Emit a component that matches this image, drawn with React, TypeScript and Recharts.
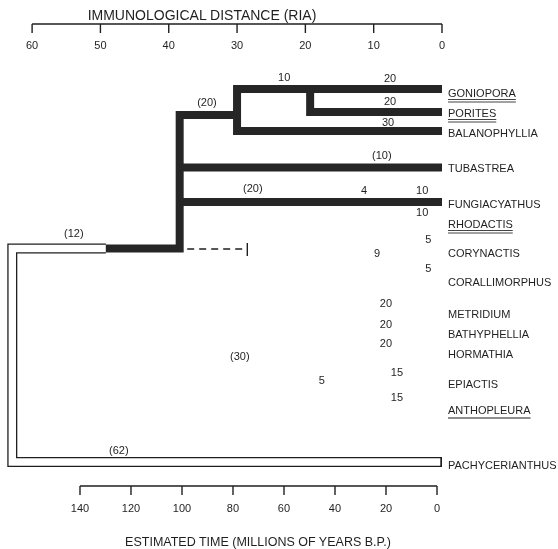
import { ComposedChart, Line, XAxis, YAxis, ReferenceLine } from 'recharts'

// taxa on the right-hand side and their row position (top = 0)
const TAXA = [
  'GONIOPORA', 'PORITES', 'BALANOPHYLLIA', 'TUBASTREA', 'FUNGIACYATHUS', 'RHODACTIS', 'CORYNACTIS',
  'CORALLIMORPHUS', 'METRIDIUM', 'BATHYPHELLIA', 'HORMATHIA', 'EPIACTIS', 'ANTHOPLEURA', 'PACHYCERIANTHUS',
]
const TAXON_ROWS = [93, 113, 133, 168, 204, 224, 253, 282, 314, 334, 354, 384, 410, 465]
const DOUBLE_UNDERLINE = ['GONIOPORA', 'PORITES', 'RHODACTIS']
const SINGLE_UNDERLINE = ['ANTHOPLEURA']

const DIST_TICKS = [60, 50, 40, 30, 20, 10, 0]
const TIME_TICKS = [140, 120, 100, 80, 60, 40, 20, 0]

// branches as [immunological distance, row] vertices
const CORAL_BRANCHES: [number, number][][] = [
  [[0, 89], [30, 89], [30, 131], [0, 131]], // goniopora + balanophyllia
  [[19.3, 89], [19.3, 112], [0, 112]], // porites
  [[30, 115], [38.4, 115], [38.4, 248.5], [49.2, 248.5]], // scleractinian stem
  [[38.4, 167.5], [0, 167.5]], // tubastrea
  [[38.4, 202], [0, 202]], // fungiacyathus
]
const OUTGROUP_BRANCH: [number, number][] = [[49.2, 248.5], [62.9, 248.5], [62.9, 462], [0, 462]]
const DASHED_BRANCH: [number, number][] = [[37.3, 249], [28.5, 249]]
const DASHED_END: [number, number][] = [[28.5, 243], [28.5, 256]]

// distance figures written along the tree
const NOTE_TEXT = ['10', '20', '(20)', '20', '30', '(10)', '(20)', '4', '10', '10', '(12)', '5', '9', '5', '20', '20', '20', '(30)', '15', '5', '15', '(62)']
const NOTE_DIST = [23.1, 7.6, 34.4, 7.6, 7.9, 8.8, 27.7, 11.4, 2.9, 2.9, 53.9, 2.0, 9.5, 2.0, 8.2, 8.2, 8.2, 29.6, 6.6, 17.6, 6.6, 47.3]
const NOTE_ROW = [77, 78, 102, 101, 122, 155, 188, 190, 190, 212, 233, 239, 253, 268, 303, 324, 343, 356, 372, 380, 397, 450]

const FONT = '"Liberation Sans", Arial, Helvetica, sans-serif'
const INK = '#1f1f1f'
const DIST_AXIS_Y = 24
const TIME_AXIS_Y = 486
const TICK_LEN = 9

const toPoints = (verts: [number, number][]) => verts.map(([d, y]) => ({ d, y }))
const notes = NOTE_TEXT.map((label, i) => ({ d: NOTE_DIST[i], y: NOTE_ROW[i], label }))

const CHAR_W: Record<string, number> = {
  A: 667, B: 667, C: 722, D: 722, E: 667, F: 611, G: 778, H: 722, I: 278, L: 556, M: 833,
  N: 722, O: 778, P: 667, R: 722, S: 667, T: 611, U: 722, Y: 667,
}
const textWidth = (s: string, size: number) =>
  s.split('').reduce((w, c) => w + (CHAR_W[c] ?? 600), 0) * size / 1000

// eslint-disable-next-line @typescript-eslint/no-explicit-any
function AxisLabel({ x, payload, top }: any) {
  return (
    <text x={x} y={top} textAnchor="middle" dominantBaseline="central" fontSize={11} fontFamily={FONT} fill={INK}>
      {payload.value}
    </text>
  )
}

// eslint-disable-next-line @typescript-eslint/no-explicit-any
function TaxonTick({ x, y, payload }: any) {
  const name = TAXA[TAXON_ROWS.indexOf(payload.value)]
  if (!name) return null
  const w = textWidth(name, 11)
  return (
    <g>
      <text x={x} y={y} dominantBaseline="central" fontSize={11} fontFamily={FONT} fill={INK}>{name}</text>
      {DOUBLE_UNDERLINE.includes(name) && (
        <>
          <line x1={x} x2={x + w} y1={y + 6.5} y2={y + 6.5} stroke="#444" strokeWidth={1.2} />
          <line x1={x} x2={x + w} y1={y + 9} y2={y + 9} stroke="#444" strokeWidth={1.2} />
        </>
      )}
      {SINGLE_UNDERLINE.includes(name) && (
        <line x1={x} x2={x + w} y1={y + 8} y2={y + 8} stroke={INK} strokeWidth={1.2} />
      )}
    </g>
  )
}

// eslint-disable-next-line @typescript-eslint/no-explicit-any
function NoteLabel({ x, y, index }: any) {
  return (
    <text x={x} y={y} textAnchor="middle" dominantBaseline="central" fontSize={11} fontFamily={FONT} fill={INK}>
      {notes[index]?.label}
    </text>
  )
}

export default function App() {
  const outgroupInner = OUTGROUP_BRANCH.map(([d, y], i) =>
    [i === OUTGROUP_BRANCH.length - 1 ? d + 0.25 : d, y] as [number, number])

  return (
    <div style={{ position: 'absolute', left: 0, top: 0, width: 558, height: 549, willChange: 'transform' }}>
      <ComposedChart width={558} height={549} margin={{ top: 0, right: 0, bottom: 0, left: 0 }}>
        <XAxis
          xAxisId="dist" type="number" dataKey="d" orientation="top" height={1}
          domain={[0, 64.7]} reversed allowDataOverflow ticks={DIST_TICKS} interval={0}
          axisLine={false} tickLine={false} tick={<AxisLabel top={45} />}
        />
        <XAxis
          xAxisId="time" type="number" dataKey="d" orientation="bottom" height={1}
          domain={[-1.96, 171.37]} reversed allowDataOverflow ticks={TIME_TICKS} interval={0}
          axisLine={false} tickLine={false} tick={<AxisLabel top={508} />}
        />
        <YAxis
          yAxisId="rows" type="number" dataKey="y" orientation="right" width={116}
          domain={[1, 548]} reversed allowDataOverflow ticks={TAXON_ROWS} interval={0}
          axisLine={false} tickLine={false} tickSize={0} tickMargin={6} tick={<TaxonTick />}
        />

        {/* axis bars with downward ticks, as in the printed figure */}
        <ReferenceLine xAxisId="dist" yAxisId="rows" segment={[{ x: 60, y: DIST_AXIS_Y }, { x: 0, y: DIST_AXIS_Y }]} stroke={INK} strokeWidth={1.4} />
        {DIST_TICKS.map((t) => (
          <ReferenceLine key={`d${t}`} xAxisId="dist" yAxisId="rows"
            segment={[{ x: t, y: DIST_AXIS_Y }, { x: t, y: DIST_AXIS_Y + TICK_LEN }]} stroke={INK} strokeWidth={1.4} />
        ))}
        <ReferenceLine xAxisId="time" yAxisId="rows" segment={[{ x: 140, y: TIME_AXIS_Y }, { x: 0, y: TIME_AXIS_Y }]} stroke={INK} strokeWidth={1.4} />
        {TIME_TICKS.map((t) => (
          <ReferenceLine key={`t${t}`} xAxisId="time" yAxisId="rows"
            segment={[{ x: t, y: TIME_AXIS_Y }, { x: t, y: TIME_AXIS_Y + TICK_LEN }]} stroke={INK} strokeWidth={1.4} />
        ))}

        {/* outgroup branch drawn as an open double line */}
        <Line xAxisId="dist" yAxisId="rows" data={toPoints(OUTGROUP_BRANCH)} dataKey="y" type="linear"
          stroke={INK} strokeWidth={10} strokeLinejoin="miter" strokeLinecap="butt" dot={false} activeDot={false} isAnimationActive={false} />
        <Line xAxisId="dist" yAxisId="rows" data={toPoints(outgroupInner)} dataKey="y" type="linear"
          stroke="#fff" strokeWidth={7.4} strokeLinejoin="miter" strokeLinecap="butt" dot={false} activeDot={false} isAnimationActive={false} />

        {CORAL_BRANCHES.map((b, i) => (
          <Line key={i} xAxisId="dist" yAxisId="rows" data={toPoints(b)} dataKey="y" type="linear"
            stroke="#262626" strokeWidth={8} strokeLinejoin="miter" strokeLinecap="butt" dot={false} activeDot={false} isAnimationActive={false} />
        ))}

        <Line xAxisId="dist" yAxisId="rows" data={toPoints(DASHED_BRANCH)} dataKey="y" type="linear"
          stroke={INK} strokeWidth={1.4} strokeDasharray="7 5" dot={false} activeDot={false} isAnimationActive={false} />
        <Line xAxisId="dist" yAxisId="rows" data={toPoints(DASHED_END)} dataKey="y" type="linear"
          stroke={INK} strokeWidth={1.4} dot={false} activeDot={false} isAnimationActive={false} />

        <Line xAxisId="dist" yAxisId="rows" data={notes} dataKey="y" stroke="none" dot={false} activeDot={false}
          label={<NoteLabel />} isAnimationActive={false} />

        <text x={202} y={15} textAnchor="middle" dominantBaseline="central" fontSize={14} fontFamily={FONT} fill={INK}>
          IMMUNOLOGICAL DISTANCE (RIA)
        </text>
        <text x={258} y={542} textAnchor="middle" dominantBaseline="central" fontSize={12.5} fontFamily={FONT} fill={INK}>
          ESTIMATED TIME (MILLIONS OF YEARS B.P.)
        </text>
      </ComposedChart>
    </div>
  )
}
